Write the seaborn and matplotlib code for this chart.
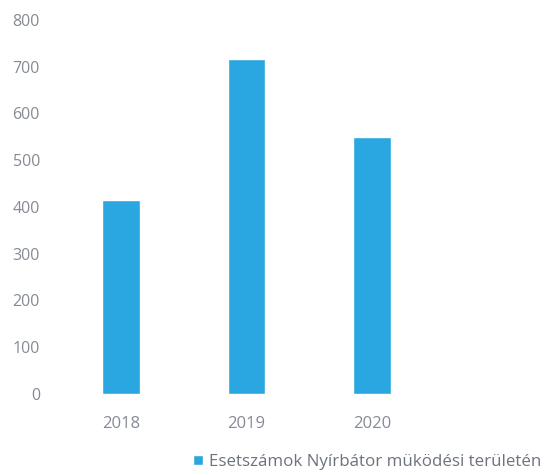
import matplotlib
matplotlib.use("Agg")
import matplotlib.pyplot as plt
import seaborn as sns
import pandas as pd

years = ["2018", "2019", "2020"]
cases = [414, 717, 550]
series_name = "Esetszámok Nyírbátor müködési területén"

df = pd.DataFrame({"year": years, "cases": cases, "series": series_name})

sns.set_theme(style="white")
plt.rcParams['font.family'] = ['Open Sans', 'DejaVu Sans']

fig = plt.figure(figsize=(5.52, 4.75), dpi=100)
ax = fig.add_axes([0.105, 0.1705, 0.683, 0.7875])

sns.barplot(data=df, x="year", y="cases", hue="series", palette=["#2aa7e1"],
            width=0.3, ax=ax, saturation=1)

ax.set_ylim(0, 800)
ax.set_yticks(range(0, 801, 100))
ax.set_xlabel('')
ax.set_ylabel('')
for s in ax.spines.values():
    s.set_visible(False)
ax.tick_params(axis='both', length=0, colors='#858a94', labelsize=11.5)
ax.tick_params(axis='y', pad=13)
ax.tick_params(axis='x', labelsize=12, pad=16)

ax.legend(loc='center left', bbox_to_anchor=(0.335, 0.027), bbox_transform=fig.transFigure,
          frameon=False, fontsize=12.2, labelcolor='#6d737d',
          handlelength=0.55, handleheight=0.55, handletextpad=0.35, borderpad=0)

fig.savefig("out.png", dpi=100, facecolor='white')
